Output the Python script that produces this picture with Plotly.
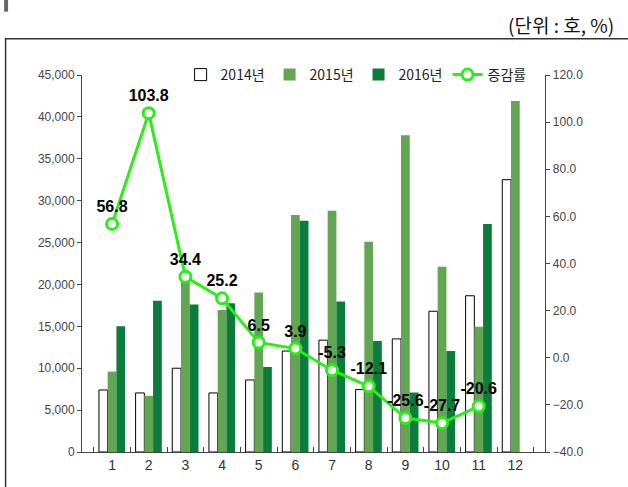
import plotly.graph_objects as go
from plotly.subplots import make_subplots

months = ['1', '2', '3', '4', '5', '6', '7', '8', '9', '10', '11', '12']
y2014 = [7400, 7050, 10000, 7050, 8600, 12050, 13350, 7450, 13500, 16800, 18650, 32500]
y2015 = [9600, 6700, 20900, 16950, 19050, 28300, 28800, 25100, 37800, 22100, 14950, 41900]
y2016 = [15000, 18050, 17600, 17750, 10150, 27600, 17950, 13250, 7100, 12050, 27200, None]
rate = [56.8, 103.8, 34.4, 25.2, 6.5, 3.9, -5.3, -12.1, -25.6, -27.7, -20.6, None]
rate_labels = ['56.8', '103.8', '34.4', '25.2', '6.5', '3.9', '-5.3', '-12.1', '-25.6', '-27.7', '-20.6', '']

KR = 'Noto Sans CJK KR'
NUM = 'Liberation Sans, Arial'

fig = make_subplots(specs=[[{'secondary_y': True}]])

fig.add_trace(go.Bar(x=months, y=y2014, name='2014년',
                     marker=dict(color='white', line=dict(color='black', width=1))),
              secondary_y=False)
fig.add_trace(go.Bar(x=months, y=y2015, name='2015년',
                     marker=dict(color='#62a553', line=dict(width=0))),
              secondary_y=False)
fig.add_trace(go.Bar(x=months, y=y2016, name='2016년',
                     marker=dict(color='#0b7c3b', line=dict(width=0))),
              secondary_y=False)
fig.add_trace(go.Scatter(x=months, y=rate, name='증감률', mode='lines+markers+text',
                         line=dict(color='#2bee18', width=3),
                         marker=dict(size=11, color='white', line=dict(color='#2bee18', width=3)),
                         text=rate_labels, textposition='top center',
                         textfont=dict(family=NUM, size=16, color='black', weight='bold'),
                         cliponaxis=False),
              secondary_y=True)

# outer frame and corner mark
fig.add_shape(type='rect', xref='paper', yref='paper', x0=-0.155, x1=1.2, y0=-0.2, y1=1.096,
              line=dict(color='#333333', width=1.5), fillcolor='rgba(0,0,0,0)', layer='below')
fig.add_shape(type='rect', xref='paper', yref='paper', x0=-0.158, x1=-0.150, y0=1.168, y1=1.2,
              line=dict(width=0), fillcolor='#666666')
fig.add_annotation(text='(단위 : 호, %)', xref='paper', yref='paper', x=1.083, y=1.133,
                   xanchor='right', yanchor='middle', showarrow=False,
                   font=dict(family=KR, size=19, color='#111111'))

fig.update_layout(
    width=628, height=487,
    margin=dict(l=82, r=53, t=75, b=35),
    paper_bgcolor='white', plot_bgcolor='white',
    barmode='group', bargap=0.285, bargroupgap=0,
    font=dict(family=KR, color='#333333'),
    showlegend=True,
    legend=dict(orientation='h', x=0.2, y=1.0, xanchor='left', yanchor='middle',
                bgcolor='rgba(0,0,0,0)', font=dict(family=KR, size=14, color='#222222'),
                itemwidth=30, tracegroupgap=0),
    xaxis=dict(type='category', showline=True, linecolor='#444444', linewidth=1,
               ticks='inside', tickson='boundaries', ticklen=5, tickcolor='#444444',
               tickfont=dict(family=NUM, size=14, color='#333333'), showgrid=False),
)
fig.update_yaxes(range=[0, 45000], dtick=5000, tickformat=',', showgrid=False,
                 showline=True, linecolor='#444444', linewidth=1, ticks='outside',
                 ticklen=4, tickcolor='#444444', zeroline=False,
                 tickfont=dict(family=NUM, size=12, color='#444444'), secondary_y=False)
fig.update_yaxes(range=[-40, 120], dtick=20, tickformat='.1f', showgrid=False,
                 showline=True, linecolor='#444444', linewidth=1, ticks='outside',
                 ticklen=4, tickcolor='#444444', zeroline=False,
                 tickfont=dict(family=NUM, size=12, color='#444444'), secondary_y=True)

fig.write_html('out.html', config={'displayModeBar': False},
               post_script="document.body.style.margin='0px';")
